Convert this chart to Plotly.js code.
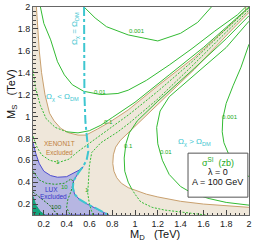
<!DOCTYPE html>
<html><head><meta charset="utf-8">
<script src="https://cdn.plot.ly/plotly-3.0.1.min.js"></script>
<style>html,body{margin:0;padding:0;background:#fff}#c{width:258px;height:247px}</style>
</head><body><div id="c"></div>
<script>
// ---- data (M_D, M_S in TeV) ----
// upper white (allowed) region boundary
const upWhiteX = [0.135,0.145,0.16,0.18,0.21,0.25,0.29,0.35,0.42,0.50,0.57,0.67,0.78,0.94,1.20,1.52,1.82,1.97,1.97];
const upWhiteY = [2.00,1.80,1.60,1.40,1.20,1.03,0.96,0.89,0.85,0.83,0.83,0.885,0.95,1.06,1.28,1.54,1.82,1.97,2.00];
// lower white (allowed) region boundary
const loWhiteX = [2.00,1.82,1.52,1.20,1.00,0.93,0.87,0.83,0.81,0.805,0.815,0.84,0.88,0.94,1.00,1.10,1.20,1.40,1.60,1.80,2.00];
const loWhiteY = [1.95,1.76,1.43,1.11,0.91,0.84,0.78,0.72,0.65,0.57,0.50,0.44,0.39,0.35,0.325,0.29,0.265,0.225,0.20,0.183,0.17];
// LUX excluded region
const luxX = [0.105,0.13,0.16,0.20,0.26,0.32,0.40,0.46,0.51,0.545,0.50,0.46,0.455,0.47,0.51,0.58,0.66,0.72,0.77,0.105];
const luxY = [0.76,0.66,0.57,0.50,0.46,0.445,0.45,0.48,0.51,0.54,0.48,0.41,0.35,0.29,0.245,0.20,0.16,0.13,0.10,0.10];
// dark green corner region
const cornerX = [0.105,0.115,0.13,0.15,0.17,0.19,0.21,0.105];
const cornerY = [0.27,0.23,0.19,0.16,0.13,0.115,0.10,0.10];
// relic density line Omega_chi = Omega_DM
const omegaX = [0.553,0.553,0.556,0.565,0.58,0.59,0.575,0.545,0.50,0.46,0.455,0.47,0.51,0.58,0.66,0.72,0.77];
const omegaY = [2.00,1.60,1.20,0.95,0.80,0.68,0.60,0.545,0.48,0.41,0.35,0.29,0.245,0.20,0.16,0.13,0.10];
// sigma_SI contours (zb)
const c0001aX = [0.553,0.65,0.75,0.94,1.20,1.40,1.55,1.67];
const c0001aY = [2.00,1.90,1.82,1.745,1.69,1.76,1.86,2.00];
const c0001bX = [2.00,1.93,1.86,1.80,1.77,1.765,1.78,1.82,1.88,2.00];
const c0001bY = [1.66,1.45,1.28,1.12,0.98,0.86,0.76,0.66,0.55,0.45];
const c001aX = [0.17,0.20,0.26,0.32,0.38,0.45,0.55,0.70,0.85,0.94,1.10,1.30,1.50,1.70,1.90,1.97];
const c001aY = [2.00,1.85,1.70,1.50,1.38,1.29,1.23,1.20,1.21,1.24,1.33,1.47,1.62,1.78,1.93,2.00];
const c001bX = [2.00,1.80,1.50,1.30,1.22,1.19,1.20,1.24,1.30,1.40,1.50,1.65,1.80,2.00];
const c001bY = [1.87,1.63,1.36,1.18,1.05,0.90,0.75,0.60,0.47,0.36,0.30,0.25,0.215,0.19];
const c01aDashX = [0.105,0.13,0.17,0.22,0.30,0.40];
const c01aDashY = [1.42,1.25,1.10,0.98,0.90,0.86];
const c01aX = [0.40,0.50,0.60,0.70,0.80,1.00,1.30,1.60,1.85,2.00];
const c01aY = [0.86,0.85,0.87,0.92,0.99,1.13,1.38,1.63,1.86,2.00];
const c01bX = [2.00,1.80,1.50,1.20,1.02,0.95,0.92,0.905,0.91,0.94,0.97];
const c01bY = [1.92,1.71,1.42,1.14,0.96,0.85,0.75,0.62,0.50,0.40,0.34];
const c01bDashX = [0.97,1.00,1.05,1.15,1.26,1.45,1.62];
const c01bDashY = [0.34,0.29,0.22,0.17,0.145,0.12,0.10];
const c1aX = [0.105,0.14,0.18,0.25,0.33,0.42,0.50,0.63,0.80,0.95,1.20,1.50,1.80,2.00];
const c1aY = [0.82,0.72,0.65,0.60,0.58,0.61,0.68,0.78,0.91,1.02,1.23,1.50,1.80,1.99];
const c1bX = [0.63,0.60,0.585,0.59,0.60,0.62,0.70,0.85,0.95,1.20,1.50,1.80,2.00];
const c1bY = [0.10,0.20,0.30,0.40,0.55,0.67,0.76,0.86,0.94,1.16,1.46,1.77,1.97];
const c10X = [0.105,0.16,0.22,0.30,0.38,0.44,0.46,0.44,0.41,0.40,0.43];
const c10Y = [0.50,0.42,0.39,0.38,0.39,0.43,0.40,0.32,0.24,0.17,0.10];
const c100X = [0.105,0.15,0.20,0.25,0.29,0.32];
const c100Y = [0.31,0.27,0.23,0.19,0.14,0.10];
// contour labels
const lblText = ['0.001','0.001','0.01','0.01','0.1','0.1','1','1','10','100'];
const lblX = [1.02,1.83,0.695,1.27,0.768,0.947,0.325,0.58,0.377,0.31];
const lblY = [1.785,0.995,1.22,0.675,0.95,0.73,0.585,0.33,0.355,0.172];

const TAN='#efe7da', BROWN='#c9a06e', GREEN='#33bb33', CYAN='#3ec6d0';
function line(x,y,color,dash,w){return {type:'scatter',mode:'lines',x:x,y:y,line:{color:color,width:w||1,dash:dash||'solid'},hoverinfo:'skip',showlegend:false};}
function area(x,y,fill,lc){return {type:'scatter',mode:'lines',x:x,y:y,fill:'toself',fillcolor:fill,line:{color:lc,width:1},hoverinfo:'skip',showlegend:false};}

const traces = [
  area(upWhiteX,upWhiteY,'#ffffff',BROWN),
  area(loWhiteX,loWhiteY,'#ffffff',BROWN),
  area(luxX,luxY,'#b6b6e2','#4d4dd0'),
  area(cornerX,cornerY,'#14a47c','#14a47c'),
  line(c0001aX,c0001aY,GREEN),
  line(c0001bX,c0001bY,GREEN),
  line(c001aX,c001aY,GREEN),
  line(c001bX,c001bY,GREEN),
  line(c01aDashX,c01aDashY,GREEN,'2px,1.5px'),
  line(c01aX,c01aY,GREEN),
  line(c01bX,c01bY,GREEN),
  line(c01bDashX,c01bDashY,GREEN,'2px,1.5px'),
  line(c1aX,c1aY,GREEN,'2px,1.5px'),
  line(c1bX,c1bY,GREEN,'2px,1.5px'),
  line(c10X,c10Y,'#229922','2px,1.5px'),
  line(c100X,c100Y,'#116611','2px,1.5px'),
  line(omegaX,omegaY,CYAN,'dashdot',2)
];

const F='Liberation Sans, Arial, sans-serif';
function A(o){return Object.assign({showarrow:false,xanchor:'center',yanchor:'middle'},o);}
const ann = lblText.map((t,i)=>A({x:lblX[i],y:lblY[i],text:t,
  font:{size:6,color:(t==='100'?'#116611':'#22aa22'),family:F}}));
ann.push(
 A({x:0.474,y:1.80,text:'Ω<sub>χ</sub> = Ω<sub>DM</sub>',textangle:-90,font:{size:8,color:CYAN,family:F}}),
 A({x:0.36,y:1.18,text:'Ω<sub>χ</sub> < Ω<sub>DM</sub>',font:{size:8,color:CYAN,family:F}}),
 A({x:1.526,y:0.77,text:'Ω<sub>χ</sub> > Ω<sub>DM</sub>',font:{size:8,color:CYAN,family:F}}),
 A({x:0.337,y:0.757,text:'XENON1T',font:{size:6.5,color:'#c0803a',family:F}}),
 A({x:0.337,y:0.675,text:'Excluded',font:{size:6.5,color:'#c0803a',family:F}}),
 A({x:0.263,y:0.33,text:'LUX',font:{size:6.5,color:'#3535c8',family:F}}),
 A({x:0.285,y:0.268,text:'Excluded',font:{size:6.5,color:'#3535c8',family:F}}),
 A({x:1.725,y:0.585,text:'σ<sup>SI</sup>  (zb)',font:{size:9,color:'#22aa22',family:F}}),
 A({x:1.725,y:0.49,text:'λ = 0',font:{size:9,color:'#111',family:F}}),
 A({x:1.725,y:0.40,text:'A = 100 GeV',font:{size:9,color:'#111',family:F}}),
 A({xref:'paper',yref:'paper',x:0.567,y:-0.097,text:'M<sub>D</sub>   (TeV)',font:{size:11,color:'#111',family:F}}),
 A({xref:'paper',yref:'paper',x:-0.097,y:0.582,text:'M<sub>S</sub>   (TeV)',textangle:-90,font:{size:11,color:'#111',family:F}})
);

const ax = {showgrid:false,zeroline:false,showline:true,mirror:true,linecolor:'#666',linewidth:1,automargin:false,
  ticks:'inside',ticklen:5,tickcolor:'#444',tick0:0,dtick:0.2,
  minor:{ticks:'inside',ticklen:2.5,dtick:0.04,tickcolor:'#444'},
  tickfont:{size:9,color:'#222',family:F}};
const layout = {
  width:258,height:247,margin:{l:33,r:9,t:7,b:32,autoexpand:false},
  paper_bgcolor:'#fff',plot_bgcolor:TAN,
  xaxis:Object.assign({},ax,{range:[0.105,2]}),
  yaxis:Object.assign({},ax,{range:[0.1,2]}),
  shapes:[{type:'rect',xref:'x',yref:'y',x0:1.465,x1:1.99,y0:0.263,y1:0.665,fillcolor:'#fff',line:{color:'#555',width:1},layer:'above'}],
  annotations:ann,showlegend:false
};
Plotly.newPlot('c',traces,layout,{staticPlot:true,displayModeBar:false});
</script></body></html>
